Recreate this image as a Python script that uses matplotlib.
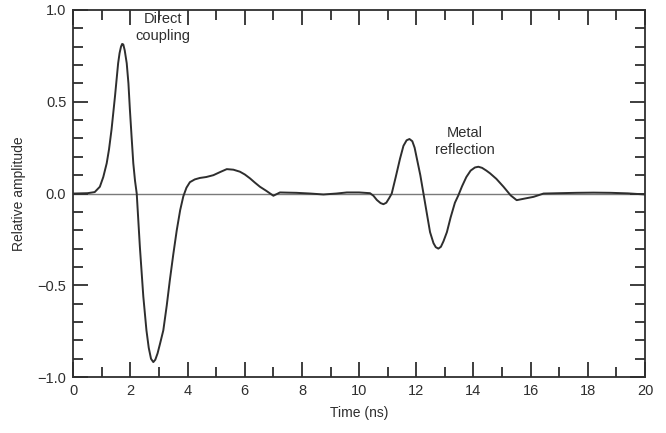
import numpy as np
import matplotlib
matplotlib.use("Agg")
import matplotlib.pyplot as plt
from matplotlib.ticker import MultipleLocator

plt.rcParams['font.family'] = ['Liberation Sans', 'DejaVu Sans']

# waveform (time in ns, relative amplitude)
time_ns = [0, 0.5, 0.75, 0.93, 1.05, 1.17, 1.25, 1.34, 1.46, 1.57, 1.62, 1.67, 1.71, 1.75, 1.8,
           1.87, 1.93, 1.98, 2.04, 2.1, 2.16, 2.22, 2.33, 2.45, 2.56, 2.64, 2.72, 2.8, 2.87, 2.95,
           3.04, 3.15, 3.27, 3.38, 3.5, 3.62, 3.74, 3.85, 3.96, 4.08, 4.25, 4.43, 4.65, 4.9, 5.15,
           5.37, 5.6, 5.83, 6.0, 6.18, 6.35, 6.53, 6.75, 7.0, 7.23, 7.5, 7.8, 8.3, 8.75, 9.2,
           9.57, 10.0, 10.38, 10.5, 10.62, 10.75, 10.85, 10.95, 11.05, 11.14, 11.28,
           11.43, 11.55, 11.66, 11.76, 11.86, 11.94, 12.02, 12.14, 12.25, 12.37, 12.48,
           12.6, 12.68, 12.77, 12.86, 12.95, 13.07, 13.2, 13.35, 13.47, 13.6, 13.75,
           13.9, 14.05, 14.17, 14.3, 14.45, 14.58, 14.8, 15.05, 15.3, 15.51, 15.8, 16.1,
           16.45, 17.0, 17.6, 18.2, 18.8, 19.4, 20.0]
amplitude = [0, 0.002, 0.008, 0.037, 0.09, 0.165, 0.24, 0.35, 0.53, 0.71, 0.765, 0.80, 0.815, 0.812, 0.78,
             0.71, 0.6, 0.46, 0.31, 0.165, 0.07, 0.0, -0.29, -0.56, -0.745, -0.84, -0.9, -0.918, -0.905, -0.87,
             -0.815, -0.745, -0.61, -0.47, -0.33, -0.2, -0.09, -0.015, 0.032, 0.062, 0.077, 0.085, 0.09, 0.1, 0.118,
             0.133, 0.13, 0.119, 0.104, 0.083, 0.06, 0.037, 0.015, -0.012, 0.006, 0.005, 0.004, 0.0, -0.005, 0.0,
             0.006, 0.006, 0.002, -0.012, -0.035, -0.052, -0.058, -0.05, -0.025, 0.0, 0.09,
             0.19, 0.26, 0.29, 0.297, 0.285, 0.25, 0.19, 0.1, 0.0, -0.11, -0.21,
             -0.27, -0.292, -0.30, -0.29, -0.26, -0.21, -0.13, -0.05, -0.01, 0.04, 0.09,
             0.125, 0.142, 0.146, 0.14, 0.125, 0.11, 0.08, 0.037, -0.01, -0.036, -0.027, -0.018,
             0.0, 0.002, 0.004, 0.005, 0.004, 0.001, -0.005]

ink = '#2e2e2e'

fig = plt.figure(figsize=(6.66, 4.33), dpi=100)
ax = fig.add_axes([0.11, 0.129, 0.8585, 0.848])

ax.axhline(0, color='#7a7a7a', lw=1.0, zorder=1)
ax.plot(time_ns, amplitude, color=ink, lw=1.4, zorder=2, solid_joinstyle='round')

ax.set_xlim(0, 20)
ax.set_ylim(-1.0, 1.0)
ax.xaxis.set_major_locator(MultipleLocator(2))
ax.xaxis.set_minor_locator(MultipleLocator(1))
ax.yaxis.set_minor_locator(MultipleLocator(0.1))
ax.set_yticks([-1.0, -0.5, 0.0, 0.5, 1.0])
ax.set_yticklabels(['\u22121.0', '\u22120.5', '0.0', '0.5', '1.0'])
ax.tick_params(which='both', direction='in', top=True, right=True, color=ink,
               width=1.3, labelsize=10.5, labelcolor=ink)
ax.tick_params(which='major', length=11, pad=5)
ax.tick_params(which='minor', length=7)
for s in ax.spines.values():
    s.set_color(ink)
    s.set_linewidth(1.3)

ax.set_xlabel('Time (ns)', fontsize=10, color=ink, labelpad=6)
ax.set_ylabel('Relative amplitude', fontsize=10, color=ink, labelpad=8)

ax.text(3.14, 0.905, 'Direct\ncoupling', ha='center', va='center',
        fontsize=10.5, color=ink, linespacing=1.25)
ax.text(13.7, 0.285, 'Metal\nreflection', ha='center', va='center',
        fontsize=10.5, color=ink, linespacing=1.25)

fig.savefig('out.png', dpi=100)
